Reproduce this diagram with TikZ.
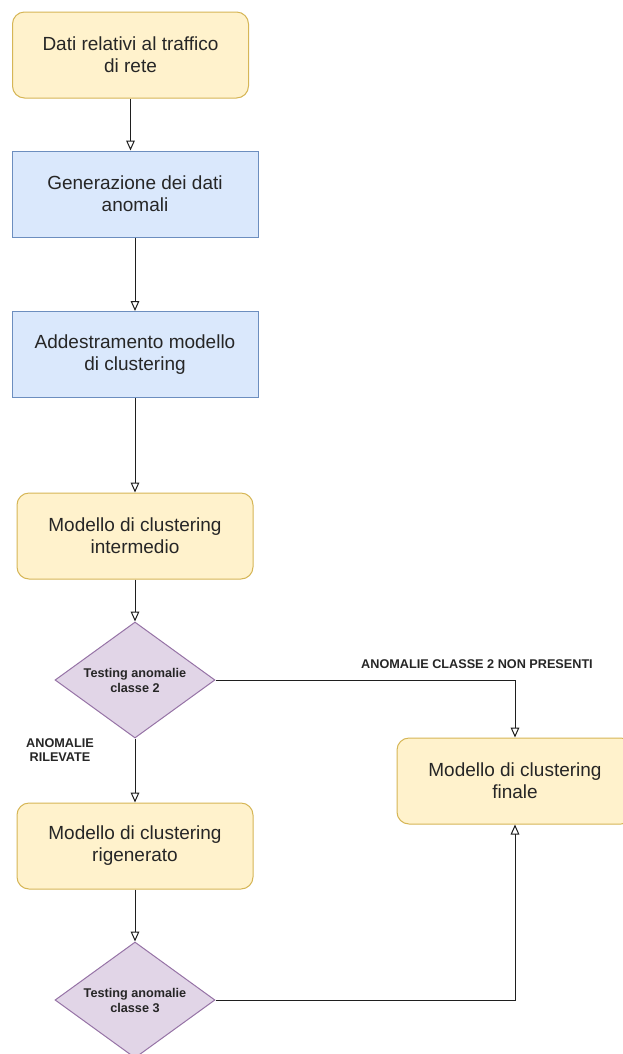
\documentclass[tikz,border=0pt]{standalone}
\usepackage{fontspec}
\setmainfont{Liberation Sans}
\usetikzlibrary{shapes.geometric,arrows.meta}

\definecolor{yelfill}{HTML}{FFF2CC}
\definecolor{yeldraw}{HTML}{D6B656}
\definecolor{bluefill}{HTML}{DAE8FC}
\definecolor{bluedraw}{HTML}{6C8EBF}
\definecolor{purfill}{HTML}{E1D5E7}
\definecolor{purdraw}{HTML}{9673A6}
\definecolor{txt}{HTML}{262626}
\definecolor{wire}{HTML}{1F1F1F}

\tikzset{
  px/.style={x=0.75pt,y=-0.75pt},
  base/.style={draw, line width=0.75pt, text=txt, align=center, inner sep=0pt,
    font=\fontsize{14.25}{16.5}\selectfont},
  yelbox/.style={base, fill=yelfill, draw=yeldraw, rounded corners=9pt,
    minimum width=177pt, minimum height=64.5pt},
  bluebox/.style={base, fill=bluefill, draw=bluedraw,
    minimum width=184.5pt, minimum height=64.5pt},
  decision/.style={base, diamond, fill=purfill, draw=purdraw, shape aspect=1.38,
    minimum width=120pt, minimum height=87pt,
    font=\bfseries\fontsize{9.5}{11.25}\selectfont},
  tag/.style={text=txt, align=center, inner sep=0pt,
    font=\bfseries\fontsize{9.5}{10.5}\selectfont},
  arr/.style={draw=wire, line width=0.75pt,
    -{Triangle[open,width=6.5pt,length=7.5pt,line width=0.75pt]}},
}

\begin{document}
\begin{tikzpicture}[px]
  \clip (0,0) rectangle (623,1054);
  \fill[white] (0,0) rectangle (623,1054);

  % main column
  \node[yelbox]  (dati)   at (130.5,55)  {Dati relativi al traffico\\di rete};
  \node[bluebox] (gen)    at (135,194)   {Generazione dei dati\\anomali};
  \node[bluebox] (addr)   at (135,354.5) {Addestramento modello\\di clustering};
  \node[yelbox]  (interm) at (135,536)   {Modello di clustering\\intermedio};
  \node[decision] (test2) at (135,680)   {Testing anomalie\\classe 2};
  \node[yelbox]  (rigen)  at (135,846)   {Modello di clustering\\rigenerato};
  \node[decision] (test3) at (135,1000)  {Testing anomalie\\classe 3};

  % final model on the right
  \node[yelbox]  (finale) at (515,781)   {Modello di clustering\\finale};

  % branch labels
  \node[tag] (lblno)  at (477,664) {ANOMALIE CLASSE 2 NON PRESENTI};
  \node[tag] (lblyes) at (60,750)  {ANOMALIE\\RILEVATE};

  % connectors
  \draw[arr] (dati.south) -- (dati.south |- gen.north);
  \draw[arr] (gen) -- (addr);
  \draw[arr] (addr) -- (interm);
  \draw[arr] (interm) -- (test2);
  \draw[arr] (test2) -- (rigen);
  \draw[arr] (rigen) -- (test3);
  \draw[arr] (test2.east) -| (finale.north);
  \draw[arr] (test3.east) -| (finale.south);
\end{tikzpicture}
\end{document}
